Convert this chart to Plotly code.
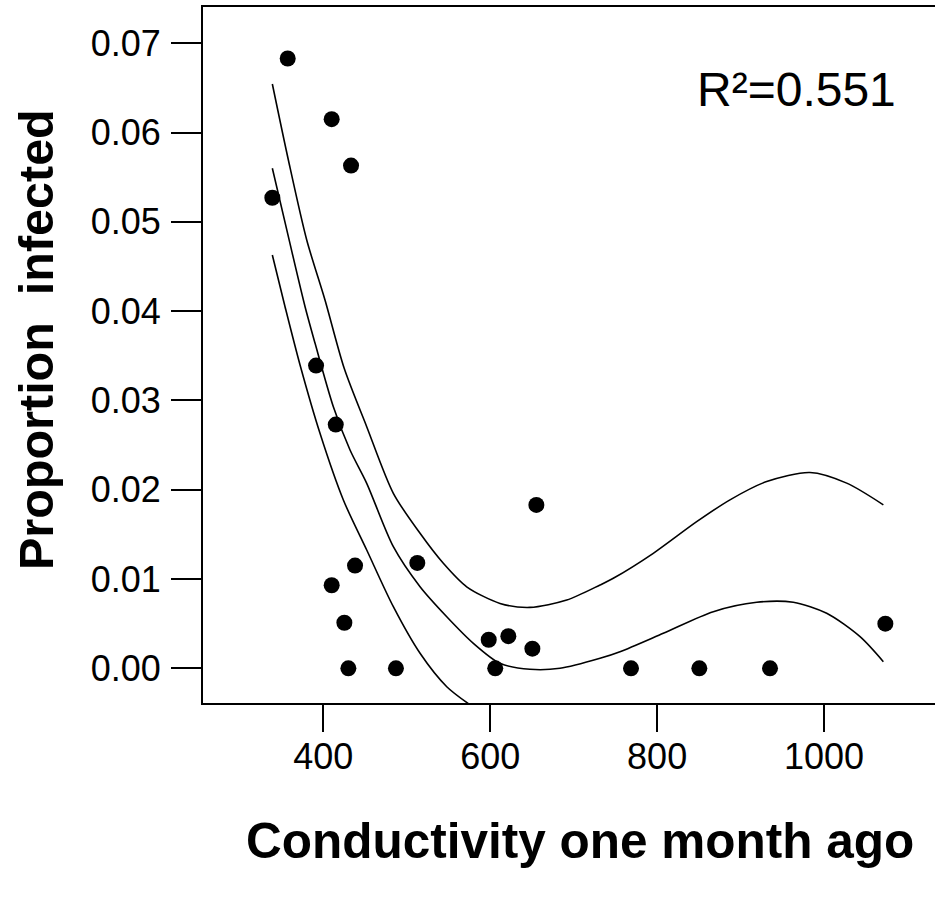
import plotly.graph_objects as go

# Observed proportion infected vs conductivity one month earlier
conductivity = [357.3, 410.0, 433.2, 338.9, 391.3, 414.9, 655.3, 438.0, 512.6, 410.0,
                425.2, 598.2, 621.7, 650.5, 430.0, 487.0, 606.0, 768.7, 850.6, 935.3, 1073.5]
prop_infected = [0.0683, 0.0615, 0.0563, 0.0527, 0.0339, 0.0273, 0.0183, 0.0115, 0.0118, 0.0093,
                 0.0051, 0.0032, 0.0036, 0.0022, 0.0, 0.0, 0.0, 0.0, 0.0, 0.0, 0.0050]

# Fitted curve and confidence bands
upper_x = [338.9, 358.1, 380.1, 402.0, 425.0, 452.0, 483.9, 515.9, 543.8, 571.8, 611.7, 647.6,
           691.7, 731.6, 747.5, 795.4, 847.4, 887.3, 931.3, 983.2, 1027.2, 1071.1]
upper_y = [0.06544, 0.05693, 0.04797, 0.04125, 0.03360, 0.02706, 0.01960, 0.01512, 0.01176, 0.00913,
           0.00727, 0.00682, 0.00764, 0.00933, 0.01008, 0.01288, 0.01642, 0.01887, 0.02092, 0.02193,
           0.02074, 0.01831]

fit_x = [338.9, 358.1, 378.1, 390.1, 412.0, 432.0, 452.0, 483.9, 515.9, 547.9, 579.8, 611.7,
         647.6, 683.6, 731.6, 755.5, 807.4, 867.3, 919.4, 963.2, 1003.2, 1043.2, 1071.1]
fit_y = [0.05600, 0.04834, 0.04050, 0.03640, 0.02930, 0.02445, 0.02072, 0.01362, 0.00914, 0.00578,
         0.00280, 0.00056, -0.00011, 0.0, 0.00112, 0.00186, 0.00392, 0.00634, 0.00739, 0.00739,
         0.00616, 0.00354, 0.00074]

lower_x = [338.9, 354.1, 372.1, 396.0, 424.0, 452.0, 483.9, 515.9, 547.9, 576.0]
lower_y = [0.04629, 0.04050, 0.03397, 0.02632, 0.01885, 0.01325, 0.00690, 0.00168, -0.00206,
           -0.00410]

x_ticks = [400, 600, 800, 1000]
y_ticks = [0.00, 0.01, 0.02, 0.03, 0.04, 0.05, 0.06, 0.07]

FONT = "Liberation Sans, Arial, sans-serif"
W, H = 935, 906
ML, MR, MT, MB = 203, 0, 7, 203

fig = go.Figure()
for xs, ys in [(upper_x, upper_y), (fit_x, fit_y), (lower_x, lower_y)]:
    fig.add_trace(go.Scatter(x=xs, y=ys, mode="lines",
                             line=dict(color="black", width=1.6, shape="spline", smoothing=0.8),
                             hoverinfo="skip", showlegend=False))

fig.add_trace(go.Scatter(x=conductivity, y=prop_infected, mode="markers",
                         marker=dict(color="black", size=16, line=dict(width=0)),
                         showlegend=False))

fig.add_annotation(x=0.811, y=0.882, xref="paper", yref="paper", text="R²=0.551",
                   showarrow=False, font=dict(family=FONT, size=48, color="black"),
                   xanchor="center", yanchor="middle")

fig.add_annotation(x=(580 - ML) / (W - ML - MR), y=-(840 - (H - MB)) / (H - MT - MB),
                   xref="paper", yref="paper", text="<b>Conductivity one month ago</b>",
                   showarrow=False, font=dict(family=FONT, size=49.5, color="black"),
                   xanchor="center", yanchor="middle")

fig.add_annotation(x=-(ML - 36) / (W - ML - MR), y=((H - MB) - 340) / (H - MT - MB),
                   xref="paper", yref="paper", text="<b>Proportion\u00a0\u00a0infected</b>",
                   textangle=-90, showarrow=False, font=dict(family=FONT, size=48.5, color="black"),
                   xanchor="center", yanchor="middle")

fig.update_layout(
    width=W, height=H,
    margin=dict(l=ML, r=MR, t=MT, b=MB, pad=0),
    plot_bgcolor="white", paper_bgcolor="white",
    font=dict(family=FONT, color="black"),
)
fig.update_xaxes(range=[255.8, 1133.0], tickvals=x_ticks, ticktext=[str(v) for v in x_ticks],
                 ticks="outside", ticklen=27, tickwidth=2, tickcolor="black", ticklabelstandoff=-6,
                 showline=True, linewidth=2, linecolor="black", mirror=True,
                 showgrid=False, zeroline=False, tickfont=dict(size=36, family=FONT))
fig.update_yaxes(range=[-0.003886, 0.074065], tickvals=y_ticks, ticktext=[f"{v:.2f}" for v in y_ticks],
                 ticks="outside", ticklen=30, tickwidth=2, tickcolor="black", ticklabelstandoff=3,
                 showline=True, linewidth=2, linecolor="black", mirror=False,
                 showgrid=False, zeroline=False, tickfont=dict(size=36, family=FONT))

fig.write_html("out.html")
